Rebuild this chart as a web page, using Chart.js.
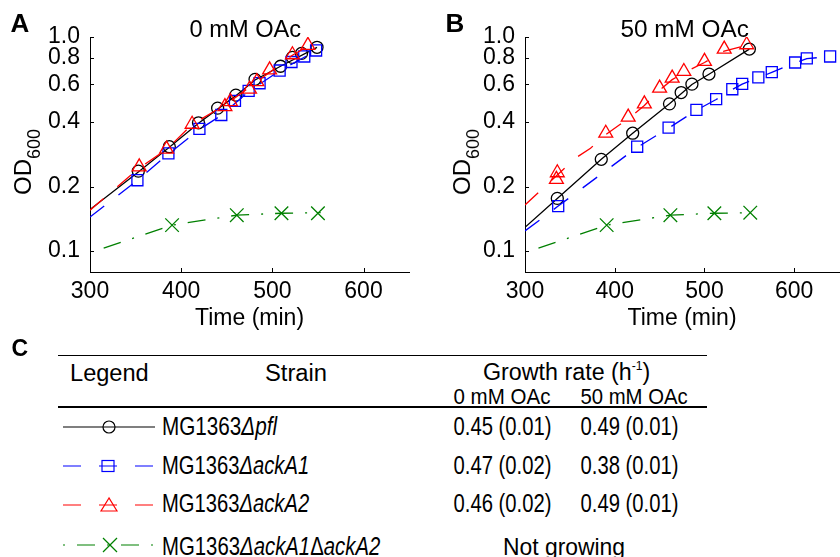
<!DOCTYPE html>
<html>
<head>
<meta charset="utf-8">
<script src="https://cdn.jsdelivr.net/npm/chart.js@4.4.1/dist/chart.umd.min.js"></script>
<style>
  html, body { margin: 0; padding: 0; background: #fff; overflow: hidden; }
  #fig { position: relative; width: 840px; height: 557px; overflow: hidden;
         font-family: "Liberation Sans", Arial, sans-serif; color: #000; }
  canvas { position: absolute; }
  .txt { position: absolute; white-space: nowrap; }
  .txt sup { font-size: 12px; position: relative; top: -10px; vertical-align: baseline; }
  .rule { position: absolute; background: #000; }
</style>
</head>
<body>
<div id="fig">
  <canvas id="grafA" width="420" height="340" style="left:0;top:0"></canvas>
  <canvas id="grafB" width="430" height="340" style="left:420px;top:0"></canvas>
  <div class="rule" style="left:58px;top:355px;width:649px;height:1px"></div>
  <div class="rule" style="left:58px;top:406px;width:649px;height:2px"></div>
  <svg id="leyenda" width="170" height="157" style="position:absolute;left:0;top:400px"></svg>
</div>

<script>
// ===============================
// DATA
// ===============================
const xTicks = [300, 400, 500, 600];
const yTicks = [0.1, 0.2, 0.4, 0.6, 0.8, 1.0];

// Panel A, 0 mM OAc: measured points
const pflA_t    = [353, 387, 419, 440, 460, 481, 509, 522, 532, 549];
const pflA_od   = [0.236, 0.307, 0.397, 0.465, 0.535, 0.634, 0.730, 0.803, 0.838, 0.895];
const ackA1A_t  = [352, 386, 420, 444, 459, 474, 486, 508, 521, 535, 548];
const ackA1A_od = [0.214, 0.286, 0.372, 0.432, 0.503, 0.560, 0.608, 0.697, 0.764, 0.811, 0.865];
const ackA2A_t  = [354, 384, 412, 448, 454, 475, 483, 497, 522, 539];
const ackA2A_od = [0.247, 0.299, 0.391, 0.473, 0.499, 0.570, 0.619, 0.702, 0.826, 0.914];
const dblA_t    = [390, 461, 510, 550];
const dblA_od   = [0.132, 0.147, 0.150, 0.150];

// Panel A: fitted curves
const pflA_fitT    = [300, 353, 387, 419, 460, 481, 509, 549];
const pflA_fitOD   = [0.156, 0.234, 0.305, 0.395, 0.532, 0.630, 0.730, 0.895];
const ackA1A_fitT  = [300, 352, 386, 420, 444, 474, 508, 548];
const ackA1A_fitOD = [0.144, 0.214, 0.284, 0.370, 0.430, 0.556, 0.695, 0.862];
const ackA2A_fitT  = [300, 354, 384, 412, 450, 483, 522, 540];
const ackA2A_fitOD = [0.155, 0.244, 0.298, 0.390, 0.487, 0.617, 0.822, 0.910];
const dblA_fitT    = [315, 390, 461, 510, 553];
const dblA_fitOD   = [0.103, 0.132, 0.147, 0.150, 0.151];

// Panel B, 50 mM OAc: measured points
const pflB_t    = [336, 385, 420, 461, 474, 486, 505, 550];
const pflB_od   = [0.176, 0.268, 0.355, 0.487, 0.550, 0.602, 0.671, 0.878];
const ackA1B_t  = [337, 425, 460, 491, 513, 531, 542, 560, 575, 601, 614, 640];
const ackA1B_od = [0.162, 0.307, 0.377, 0.456, 0.512, 0.570, 0.604, 0.647, 0.685, 0.760, 0.794, 0.811];
const ackA2B_t  = [335, 336, 390, 415, 433, 450, 464, 477, 500, 522, 547];
const ackA2B_od = [0.216, 0.232, 0.355, 0.422, 0.487, 0.577, 0.642, 0.690, 0.769, 0.878, 0.920];
const dblB_t    = [391, 462, 511, 551];
const dblB_od   = [0.132, 0.147, 0.150, 0.151];

// Panel B: fitted curves
const pflB_fitT    = [300, 336, 385, 420, 461, 486, 505, 550];
const pflB_fitOD   = [0.129, 0.176, 0.268, 0.355, 0.487, 0.600, 0.670, 0.878];
const ackA1B_fitT  = [300, 337, 425, 460, 491, 513, 531, 542, 560, 575, 601, 614, 640];
const ackA1B_fitOD = [0.124, 0.162, 0.305, 0.375, 0.455, 0.510, 0.568, 0.602, 0.645, 0.683, 0.758, 0.792, 0.810];
const ackA2B_fitT  = [300, 356, 373, 390, 415, 433, 450, 464, 477, 500, 522, 547];
const ackA2B_fitOD = [0.164, 0.271, 0.302, 0.350, 0.415, 0.478, 0.565, 0.632, 0.680, 0.760, 0.860, 0.915];
const dblB_fitT    = [315, 391, 462, 511, 554];
const dblB_fitOD   = [0.103, 0.132, 0.147, 0.150, 0.151];

// Table C
const strainGenes = ["<i>pfl</i>", "<i>ackA1</i>", "<i>ackA2</i>", "<i>ackA1</i>&Delta;<i>ackA2</i>"];
const rate0mM  = ["0.45 (0.01)", "0.47 (0.02)", "0.46 (0.02)"];
const rate50mM = ["0.49 (0.01)", "0.38 (0.01)", "0.49 (0.01)"];
const notGrowing = "Not growing";

// ===============================
// STYLES
// ===============================
const FONT = '"Liberation Sans", Arial, sans-serif';
Chart.defaults.font.family = FONT;
Chart.defaults.color = "#000";

const sty = {
  pfl:   { color: "#000000", dash: [],              marker: "circle",   r: 6,   order: 3 },
  ackA1: { color: "#0000ff", dash: [18, 18],        marker: "rect",     r: 7.8, order: 2 },
  ackA2: { color: "#ff0000", dash: [18, 18],        marker: "triangle", r: 8,   order: 1 },
  dbl:   { color: "#008000", dash: [18, 12, 2, 12], marker: "crossRot", r: 9.6, order: 4 }
};

const pts = (xs, ys) => xs.map((x, i) => ({ x, y: ys[i] }));

function fitSet(s, xs, ys) {
  return {
    data: pts(xs, ys), showLine: true, borderColor: s.color, borderWidth: 1.3,
    borderDash: s.dash, pointRadius: 0, tension: 0, order: s.order + 0.5
  };
}
function markSet(s, xs, ys) {
  return {
    data: pts(xs, ys), showLine: false, pointStyle: s.marker, pointRadius: s.r,
    pointBorderColor: s.color, pointBackgroundColor: "rgba(0,0,0,0)",
    pointBorderWidth: 1.3, order: s.order
  };
}

// inward tick marks (MATLAB look)
const inwardTicks = {
  id: "inwardTicks",
  afterDraw(chart) {
    const { ctx, chartArea: a, scales: { x, y } } = chart;
    ctx.save();
    ctx.strokeStyle = "#000";
    ctx.lineWidth = 1;
    ctx.beginPath();
    x.ticks.forEach(t => {
      const px = Math.round(x.getPixelForValue(t.value)) + 0.5;
      ctx.moveTo(px, a.bottom); ctx.lineTo(px, a.bottom - 4);
    });
    y.ticks.forEach(t => {
      const py = Math.round(y.getPixelForValue(t.value)) + 0.5;
      ctx.moveTo(a.left, py); ctx.lineTo(a.left + 4, py);
    });
    ctx.stroke();
    ctx.restore();
  }
};

function makePanel(id, yWidth, padRight, datasets) {
  return new Chart(document.getElementById(id), {
    type: "scatter",
    data: { datasets },
    options: {
      responsive: false,
      animation: false,
      events: [],
      layout: { padding: { top: 37, right: padRight, left: 0, bottom: 0 } },
      plugins: { legend: { display: false }, tooltip: { enabled: false } },
      scales: {
        x: {
          type: "linear", min: 300, max: 650,
          afterBuildTicks: s => { s.ticks = xTicks.map(v => ({ value: v })); },
          afterFit: s => { s.height = 68; },
          grid: { display: false, drawTicks: false },
          border: { color: "#000", width: 1 },
          ticks: { padding: 6, color: "#000", font: { size: 23 } },
          title: { display: true, text: "Time (min)", color: "#000",
                   font: { size: 23 }, padding: { top: 0, bottom: 8 } }
        },
        y: {
          type: "logarithmic", min: 0.0797, max: 1,
          afterBuildTicks: s => { s.ticks = yTicks.map(v => ({ value: v })); },
          afterFit: s => { s.width = yWidth; },
          grid: { display: false, drawTicks: false },
          border: { color: "#000", width: 1 },
          ticks: { padding: 10, color: "#000", font: { size: 23 },
                   callback: v => Number(v).toFixed(1) }
        }
      }
    },
    plugins: [inwardTicks]
  });
}

// ===============================
// PANELS A AND B
// ===============================
makePanel("grafA", 90, 8, [
  fitSet(sty.pfl, pflA_fitT, pflA_fitOD),       markSet(sty.pfl, pflA_t, pflA_od),
  fitSet(sty.ackA1, ackA1A_fitT, ackA1A_fitOD), markSet(sty.ackA1, ackA1A_t, ackA1A_od),
  fitSet(sty.ackA2, ackA2A_fitT, ackA2A_fitOD), markSet(sty.ackA2, ackA2A_t, ackA2A_od),
  fitSet(sty.dbl, dblA_fitT, dblA_fitOD),       markSet(sty.dbl, dblA_t, dblA_od)
]);

makePanel("grafB", 105, 4, [
  fitSet(sty.pfl, pflB_fitT, pflB_fitOD),       markSet(sty.pfl, pflB_t, pflB_od),
  fitSet(sty.ackA1, ackA1B_fitT, ackA1B_fitOD), markSet(sty.ackA1, ackA1B_t, ackA1B_od),
  fitSet(sty.ackA2, ackA2B_fitT, ackA2B_fitOD), markSet(sty.ackA2, ackA2B_t, ackA2B_od),
  fitSet(sty.dbl, dblB_fitT, dblB_fitOD),       markSet(sty.dbl, dblB_t, dblB_od)
]);

// ===============================
// TEXT
// ===============================
const fig = document.getElementById("fig");

function put(html, x, y, o = {}) {
  const size = o.size || 23;
  const d = document.createElement("div");
  d.className = "txt";
  d.innerHTML = html;
  d.style.fontSize = size + "px";
  d.style.lineHeight = size + "px";
  if (o.bold) d.style.fontWeight = "bold";
  fig.appendChild(d);
  const w0 = d.offsetWidth;
  const ax = o.align === "left" ? 0 : o.align === "right" ? 1 : 0.5;
  d.style.left = (x - ax * w0) + "px";
  d.style.top = (y - size / 2) + "px";
  d.style.transformOrigin = (ax * 100) + "% 50%";
  if (o.w) d.style.transform = `scaleX(${o.w / w0})`;
  return d;
}

function putOD(x, y) {
  const d = document.createElement("div");
  d.className = "txt";
  d.innerHTML = 'OD<span style="font-size:18px;position:relative;top:9px">600</span>';
  d.style.fontSize = "24px";
  d.style.lineHeight = "24px";
  fig.appendChild(d);
  const w0 = d.offsetWidth;
  d.style.left = (x - w0 / 2) + "px";
  d.style.top = (y - 12) + "px";
  d.style.transform = "rotate(-90deg)";
}

put("A", 20, 22.5, { size: 26, bold: true });
put("B", 455, 22.5, { size: 26, bold: true });
put("C", 20, 348.5, { size: 23, bold: true });

put("0 mM OAc", 245.5, 29.5, { size: 23, w: 112 });
put("50 mM OAc", 684, 29.5, { size: 23, w: 128 });
putOD(24, 161);
putOD(463, 161);

// table header
put("Legend", 109.5, 373, { size: 23, w: 79 });
put("Strain", 296, 373, { size: 23, w: 62 });
put("Growth rate (h<sup>-1</sup>)", 566, 372, { size: 23, w: 167 });
put("0 mM OAc", 501.5, 397, { size: 22, w: 97 });
put("50 mM OAc", 633.5, 397, { size: 22, w: 107 });

// table rows
const rowY = [426, 465, 503.5, 546.5];
const nameW = [115, 147, 147, 218];
strainGenes.forEach((g, i) => {
  put("MG1363<i>&Delta;</i>" + g, 161.5, rowY[i], { size: 25, align: "left", w: nameW[i] });
});
rate0mM.forEach((r, i) => put(r, 502, rowY[i], { size: 25, w: 98 }));
rate50mM.forEach((r, i) => put(r, 629, rowY[i], { size: 25, w: 98 }));
put(notGrowing, 564, rowY[3], { size: 24, w: 122 });

// ===============================
// LEGEND GLYPHS (table column)
// ===============================
const svg = document.getElementById("leyenda");
const NS = "http://www.w3.org/2000/svg";
function el(tag, attrs) {
  const e = document.createElementNS(NS, tag);
  for (const k in attrs) e.setAttribute(k, attrs[k]);
  svg.appendChild(e);
  return e;
}
const legRows = [
  { s: sty.pfl, y: 27, cx: 109 },
  { s: sty.ackA1, y: 66, cx: 108 },
  { s: sty.ackA2, y: 105, cx: 109 },
  { s: sty.dbl, y: 145, cx: 110 }
];
legRows.forEach(({ s, y, cx }) => {
  const line = el("line", { x1: 63, y1: y, x2: 155, y2: y, stroke: s.color, "stroke-width": 1.2 });
  if (s.dash.length) {
    line.setAttribute("stroke-dasharray", s.dash.join(" "));
    if (s.dash.length > 2) line.setAttribute("stroke-dashoffset", 30);
  }
  const m = { fill: "none", stroke: s.color, "stroke-width": 1.2 };
  if (s.marker === "circle") el("circle", { cx, cy: y, r: 6, ...m });
  if (s.marker === "rect") el("rect", { x: cx - 6, y: y - 5.5, width: 12, height: 11, ...m });
  if (s.marker === "triangle") el("polygon", { points: `${cx},${y - 7} ${cx - 8},${y + 6} ${cx + 8},${y + 6}`, ...m });
  if (s.marker === "crossRot") {
    el("line", { x1: cx - 7, y1: y - 7, x2: cx + 7, y2: y + 7, ...m });
    el("line", { x1: cx - 7, y1: y + 7, x2: cx + 7, y2: y - 7, ...m });
  }
});
</script>
</body>
</html>
